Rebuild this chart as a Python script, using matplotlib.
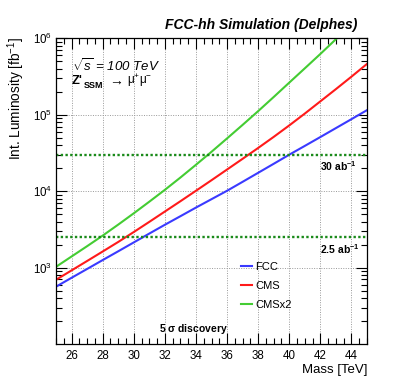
import numpy as np
import matplotlib
matplotlib.use("Agg")
import matplotlib.pyplot as plt
from matplotlib.ticker import LogLocator, MultipleLocator, FixedLocator, FuncFormatter

plt.rcParams['font.family'] = ['Liberation Sans', 'DejaVu Sans']
plt.rcParams['mathtext.fontset'] = 'custom'
plt.rcParams['mathtext.rm'] = 'Liberation Sans'
plt.rcParams['mathtext.it'] = 'Liberation Sans:italic'
plt.rcParams['mathtext.bf'] = 'Liberation Sans:bold'

# Data
mass = [25, 26, 27, 28, 29, 30, 31, 32, 33, 34, 35, 36, 37, 38, 39, 40, 41, 42, 43, 44, 45]
lumi_fcc = [562, 735, 959, 1253, 1633, 2133, 2786, 3631, 4699, 6095, 7852, 10116,
            13243, 17378, 22803, 29992, 39084, 51050, 66834, 87498, 114815]
lumi_cms = [692, 918, 1219, 1622, 2163, 2917, 3963, 5408, 7379, 10116, 13900, 19187,
            26485, 36728, 51286, 72444, 103514, 149624, 216272, 314775, 462381]
lumi_cmsx2 = [1023, 1396, 1905, 2618, 3648, 5129, 7278, 10399, 15066, 22131, 32734, 48978,
              73621, 111429, 170608, 263027, 404576, 623735, 972747, 1530935, 2426610]
series_labels = ["FCC", "CMS", "CMSx2"]
ref_lumis = [30000, 2500]
ref_labels = ["30 ab$^{\\mathbf{-1}}$", "2.5 ab$^{\\mathbf{-1}}$"]

W, H = 399, 383
fig = plt.figure(figsize=(W/100, H/100), dpi=100)
ax = fig.add_axes([56/W, 1-344/H, (367-56)/W, (344-38.3)/H])

colors = ['#3a3aff', '#ff1a1a', '#44cc33']
for y, lab, c in zip([lumi_fcc, lumi_cms, lumi_cmsx2], series_labels, colors):
    ax.plot(mass, y, color=c, lw=1.5, label=lab)

for v in ref_lumis:
    ax.axhline(v, color='#1a8a1a', lw=1.7, ls=(0, (1.0, 1.0)))

ax.set_xlim(25, 45)
ax.set_ylim(100, 1e6)
ax.set_yscale('log')

ax.xaxis.set_major_locator(MultipleLocator(2))
ax.xaxis.set_minor_locator(MultipleLocator(0.5))
ax.yaxis.set_major_locator(FixedLocator([1e3, 1e4, 1e5, 1e6]))
ax.yaxis.set_minor_locator(LogLocator(base=10, subs=np.arange(2, 10)))

def yfmt(v, pos):
    e = int(round(np.log10(v)))
    return r"$10^{%d}$" % e
ax.yaxis.set_major_formatter(FuncFormatter(yfmt))

ax.tick_params(which='both', direction='in', top=True, right=True, labelsize=8.3, width=0.8, colors='black')
ax.tick_params(which='major', length=8, pad=3)
ax.tick_params(which='minor', length=4)
ax.tick_params(axis='x', pad=4)
for s in ax.spines.values():
    s.set_linewidth(0.9)

ax.grid(True, which='major', color='#999999', ls=(0, (1, 1.5)), lw=0.7)

ax.set_xlabel("Mass [TeV]", fontsize=9.5, ha='right', x=1.0, va='top')
ax.set_ylabel("Int. Luminosity [fb$^{-1}$]", fontsize=9.8, ha='right', y=1.0)
ax.xaxis.set_label_coords(1.0, -(364 - 344) / 305.7)
ax.yaxis.set_label_coords(-(56 - 27) / 311, 1.005)

fig.text(357/W, 1-25/H, "FCC-hh Simulation (Delphes)", ha='right', va='center',
         fontsize=10, fontweight='bold', fontstyle='italic')

def ptext(x, y, s, **kw):
    fig.text(x / W, 1 - y / H, s, **kw)

ptext(72, 65.5, r"$\sqrt{s}$ = 100 TeV", fontsize=9.5, fontstyle='italic', va='center')
ptext(72, 81, "Z'", fontsize=9.3, fontweight='bold', va='center')
ptext(84, 86, "SSM", fontsize=6.5, fontweight='bold', va='center')
ptext(107, 81, r"$\rightarrow$", fontsize=10, va='center')
ptext(127, 81, r"$\mathrm{\mu^{+}\mu^{-}}$", fontsize=8.5, va='center')

for v, lab in zip(ref_lumis, ref_labels):
    ax.text((320 - 56) / 311, v * 0.7, lab, transform=ax.get_yaxis_transform(), fontsize=7.5,
            fontweight='bold', va='center', ha='left')

ax.text((159 - 56) / 311, 155, r"5 $\mathbf{\sigma}$ discovery", transform=ax.get_yaxis_transform(),
        fontsize=7.5, fontweight='bold', va='center', ha='left')

leg = ax.legend(loc='upper left', bbox_to_anchor=(0.58, 0.283), frameon=False, fontsize=8,
                handlelength=1.0, handletextpad=0.3, labelspacing=0.8, borderaxespad=0)

fig.savefig("out.png", dpi=100, facecolor='white')
